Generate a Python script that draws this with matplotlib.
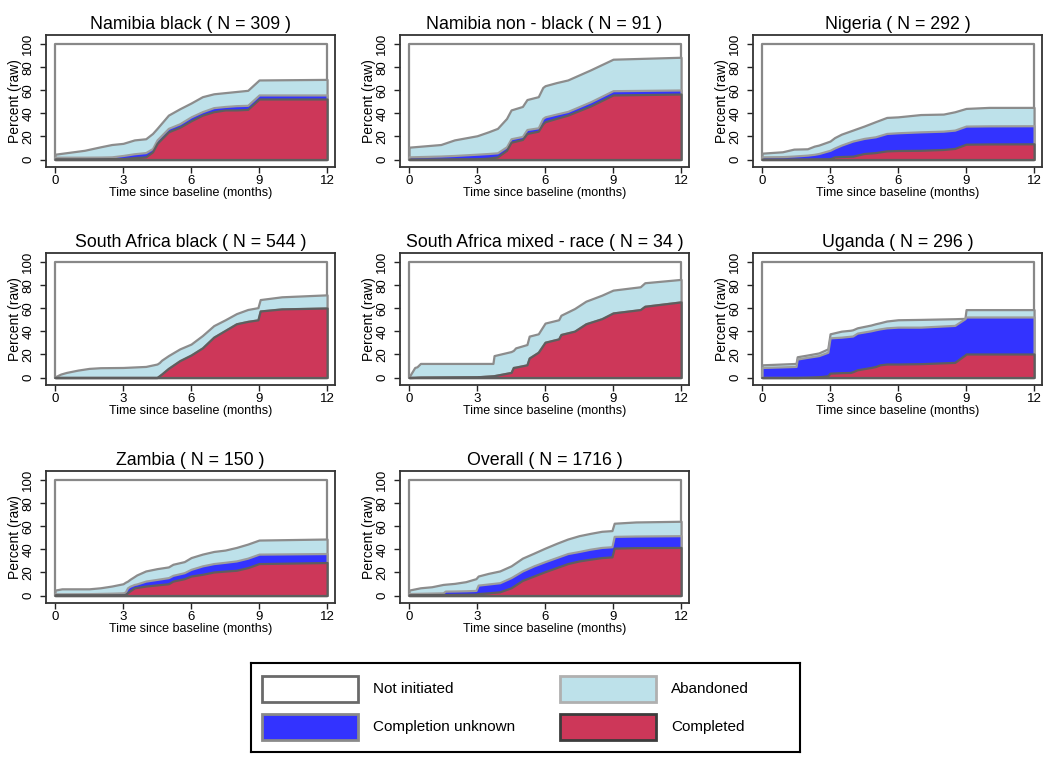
import numpy as np
import matplotlib
matplotlib.use("Agg")
import matplotlib.pyplot as plt
from matplotlib.patches import Rectangle

plt.rcParams["font.family"] = ["Liberation Sans", "DejaVu Sans"]

# Cumulative percentages (stacked from the bottom): completed,
# completed + completion unknown, completed + unknown + abandoned
nb_t = [0, 1.3, 2, 2.5, 3, 3.5, 4, 4.3, 4.5, 5, 5.5, 6, 6.5, 7, 7.5, 8, 8.5, 9, 12]
nb_done = [0.5, 0.5, 0.6, 0.7, 0.8, 1.7, 2.3, 6.7, 14, 24, 28, 33.6, 38.5, 41.5, 43, 43, 43.5, 52.5, 52.5]
nb_unk = [2, 2, 2.1, 2.3, 3.5, 5, 6, 9.5, 17, 27, 31, 37, 41.5, 45, 46, 46.7, 47, 56, 56]
nb_top = [4.6, 8, 11, 13, 14, 17, 18, 22.6, 27, 38.5, 44, 49, 54.5, 57, 58, 59, 60, 69, 69.5]

nn_t = [0, 1.4, 2, 3, 3.5, 3.9, 4.3, 4.5, 5, 5.2, 5.7, 5.9, 6, 6.5, 7, 8, 9, 12]
nn_done = [0.3, 0.4, 0.5, 0.6, 1.2, 2.3, 8, 15, 17.4, 22.6, 24.6, 31, 32.8, 35.7, 38.5, 46.4, 56, 56.8]
nn_unk = [2.3, 3, 3.5, 4.6, 5.2, 5.8, 11, 18, 20, 26, 27.5, 35.6, 37, 39.4, 41.7, 50, 59.7, 60.3]
nn_top = [10.7, 13, 17, 20.6, 24, 27, 35.6, 43, 46, 52, 54.5, 62.5, 64, 66.7, 69, 77.7, 87, 88.7]

ng_t = [0, 0.9, 1.4, 2, 2.3, 2.5, 3, 3.2, 3.5, 4, 4.5, 5, 5.5, 6, 7, 8, 8.5, 9, 10, 12]
ng_done = [0.3, 0.3, 0.4, 0.4, 0.5, 0.5, 0.6, 2.3, 2.6, 2.9, 5.2, 6, 7.5, 7.8, 8, 8.7, 9.6, 13.3, 13.5, 13.6]
ng_unk = [2.3, 2.5, 3, 3.8, 4.5, 5.2, 8, 10, 12.5, 16, 18.3, 19.7, 22.6, 23.2, 24, 24.6, 25.5, 29, 29.2, 29.3]
ng_top = [5.5, 6.7, 9, 9.3, 11.6, 12.5, 16, 19, 22, 25.5, 29, 32.8, 36.5, 37, 39, 39.4, 41.4, 44.3, 45.2, 45.2]

sb_t = [0, 0.25, 0.5, 1, 1.5, 2, 3, 4, 4.5, 4.6, 4.7, 5, 5.5, 6, 6.5, 7, 7.5, 8, 8.5, 8.95, 9.05, 10, 12]
sb_done = [0, 0, 0, 0, 0, 0, 0, 0, 0, 1.5, 3, 7.9, 14.6, 19.5, 25.7, 35, 40.8, 46.6, 48.7, 50, 57.7, 59.5, 60.3]
sb_unk = sb_done
sb_top = [0.6, 3, 4.4, 6.4, 7.9, 8.5, 8.7, 9.6, 11.7, 13, 15, 19, 24.8, 29, 36.4, 45, 50, 55.4, 59, 60.6, 67.6, 70, 71.7]

sm_t = [0, 0.25, 0.35, 0.5, 3, 3.7, 3.75, 4.5, 4.6, 4.7, 5.2, 5.3, 5.7, 6, 6.6, 6.7, 7.3, 7.8, 8.5, 9, 10.2, 10.4, 12]
sm_done = [0, 0.1, 0.2, 0.3, 0.6, 1.5, 1.6, 4.4, 8.7, 9, 11, 16.9, 21.9, 30.6, 33.5, 37.3, 40.2, 46.6, 51, 56, 58.9, 61.8, 65.6]
sm_unk = sm_done
sm_top = [0.6, 8.7, 9.3, 12.2, 12.2, 12.2, 19, 22.5, 23.5, 25.7, 28.6, 35.9, 37.9, 47.2, 50.1, 54, 59.8, 66.2, 71.4, 75.8, 78.7, 82.2, 85.1]

ug_t = [0, 1.5, 1.55, 2, 2.5, 2.9, 3.0, 3.5, 3.9, 4, 4.2, 4.8, 5, 5.2, 5.5, 6, 7, 8.5, 8.95, 9.0, 12]
ug_done = [0, 0, 0, 0.2, 0.6, 1.5, 3.8, 4.2, 4.4, 5, 6.7, 8.7, 9.5, 11, 11.7, 11.7, 12, 13.1, 19.5, 20.4, 20.4]
ug_unk = [8.7, 9.6, 16, 17.5, 19, 21.9, 34.4, 35, 35.8, 36, 38.5, 40.5, 41.4, 42.2, 43.1, 43.7, 43.7, 45.2, 51, 52.5, 52.5]
ug_top = [11, 12.2, 18, 19.5, 21.3, 24.8, 37.9, 40.2, 41, 41.4, 43.1, 45.5, 46.6, 47.5, 49, 50.1, 50.4, 51, 51.3, 58.9, 58.9]

zm_t = [0, 0.3, 1.5, 2, 2.5, 3, 3.1, 3.2, 3.3, 3.5, 3.6, 4, 4.5, 5, 5.2, 5.7, 6, 6.5, 7, 7.5, 8, 8.5, 9, 12]
zm_done = [0.6, 0.6, 0.6, 0.6, 0.6, 0.6, 0.9, 2.5, 4, 6.7, 7, 8.2, 9.2, 10.2, 12.5, 14.6, 16.9, 18.4, 20.4, 21.2, 21.9, 24.2, 27.7, 28.6]
zm_unk = [1.5, 1.5, 1.6, 1.8, 2, 2.3, 3, 6.7, 8, 9.6, 10, 12.5, 14, 15.5, 17.5, 19.8, 22.7, 25.7, 27.7, 28.8, 30, 32.4, 35.9, 36.4]
zm_top = [4.7, 5.8, 5.8, 6.7, 8.2, 10.2, 11.5, 12.5, 14, 16.5, 17.8, 21.3, 23.3, 24.8, 27.1, 29.4, 32.9, 35.9, 38.2, 39.4, 41.7, 44.6, 48.1, 49]

ov_t = [0, 0.5, 1, 1.5, 1.6, 2, 2.5, 2.95, 3.05, 3.5, 4, 4.5, 5, 5.5, 6, 6.5, 7, 7.5, 8, 8.5, 8.95, 9.05, 10, 12]
ov_done = [0.6, 0.7, 0.8, 0.9, 0.9, 1, 1.1, 1.2, 1.7, 2.3, 3.2, 6.7, 13.1, 16.9, 20.7, 24.2, 27.7, 30, 31.5, 32.9, 33.5, 41.1, 41.5, 41.7]
ov_unk = [1.7, 1.9, 2.1, 2.3, 3.8, 3.9, 4.1, 4.4, 9, 10, 11.1, 15.5, 21.3, 25.7, 29.4, 32.9, 36.4, 38.2, 40.2, 41.7, 42.3, 51.3, 51.6, 51.9]
ov_top = [4.7, 6.7, 7.6, 9.6, 9.8, 10.5, 12, 14.6, 16.9, 19.2, 21.3, 25.7, 32.4, 36.7, 41.1, 45.2, 49, 51.9, 53.9, 55.7, 56.3, 62.7, 63.8, 64.4]

titles = ["Namibia black ( N = 309 )", "Namibia non - black ( N = 91 )", "Nigeria ( N = 292 )",
          "South Africa black ( N = 544 )", "South Africa mixed - race ( N = 34 )", "Uganda ( N = 296 )",
          "Zambia ( N = 150 )", "Overall ( N = 1716 )"]
panels = [(nb_t, nb_done, nb_unk, nb_top), (nn_t, nn_done, nn_unk, nn_top), (ng_t, ng_done, ng_unk, ng_top),
          (sb_t, sb_done, sb_unk, sb_top), (sm_t, sm_done, sm_unk, sm_top), (ug_t, ug_done, ug_unk, ug_top),
          (zm_t, zm_done, zm_unk, zm_top), (ov_t, ov_done, ov_unk, ov_top)]

labels = ["Not initiated", "Abandoned", "Completion unknown", "Completed"]
fills = ["white", "#bde1ea", "#3333ff", "#cd3759"]
edges = ["#888888", "#8c8c8c", "#9c9c9c", "#5e5e5e"]
legend_edges = ["#6a6a6a", "#b0b0b0", "#8a8a8a", "#3c3c3c"]

W, H = 1050, 763
fig = plt.figure(figsize=(W / 100, H / 100), dpi=100)

lefts = [46, 400, 753]
tops = [35, 253, 471]
pw, ph = 289, 132

for i, (t, done, unk, top) in enumerate(panels):
    r, c = divmod(i, 3)
    ax = fig.add_axes([lefts[c] / W, (H - tops[r] - ph) / H, pw / W, ph / H])
    t = np.array(t)
    levels = [np.full(len(t), 100.0), np.array(top), np.array(unk), np.array(done)]
    for lev, fc, ec in zip(levels, fills, edges):
        ax.fill_between(t, 0, lev, facecolor=fc, edgecolor=ec, linewidth=1.6)
    ax.set_xlim(-0.4, 12.35)
    ax.set_ylim(-6.5, 108)
    ax.set_xticks([0, 3, 6, 9, 12])
    ax.set_yticks([0, 20, 40, 60, 80, 100])
    ax.tick_params(labelsize=9.5, length=4, width=1, color="#222222")
    ax.tick_params(axis="y", pad=4.5)
    ax.tick_params(axis="x", pad=2)
    for lab in ax.get_yticklabels():
        lab.set_rotation(90)
        lab.set_va("center")
    for s in ax.spines.values():
        s.set_linewidth(1.3)
        s.set_color("#333333")
    ax.set_xlabel("Time since baseline (months)", fontsize=9, labelpad=0)
    ax.set_ylabel("Percent (raw)", fontsize=10, labelpad=0)
    ax.set_title(titles[i], fontsize=12.8, pad=4)

# legend box
lg = fig.add_axes([251 / W, (H - 752) / H, 549 / W, 89 / H])
lg.set_xlim(0, 549)
lg.set_ylim(89, 0)
lg.set_xticks([])
lg.set_yticks([])
for s in lg.spines.values():
    s.set_linewidth(1.5)
    s.set_color("black")
order = [0, 2, 1, 3]
for k, idx in enumerate(order):
    col, row = divmod(k, 2)
    x0 = 11 + col * 298
    y0 = 13 + row * 38
    lg.add_patch(Rectangle((x0, y0), 96, 26, facecolor=fills[idx],
                           edgecolor=legend_edges[idx], linewidth=2))
    lg.text(x0 + 111, y0 + 13, labels[idx], fontsize=11, va="center", ha="left")

fig.savefig("out.png", dpi=100)
